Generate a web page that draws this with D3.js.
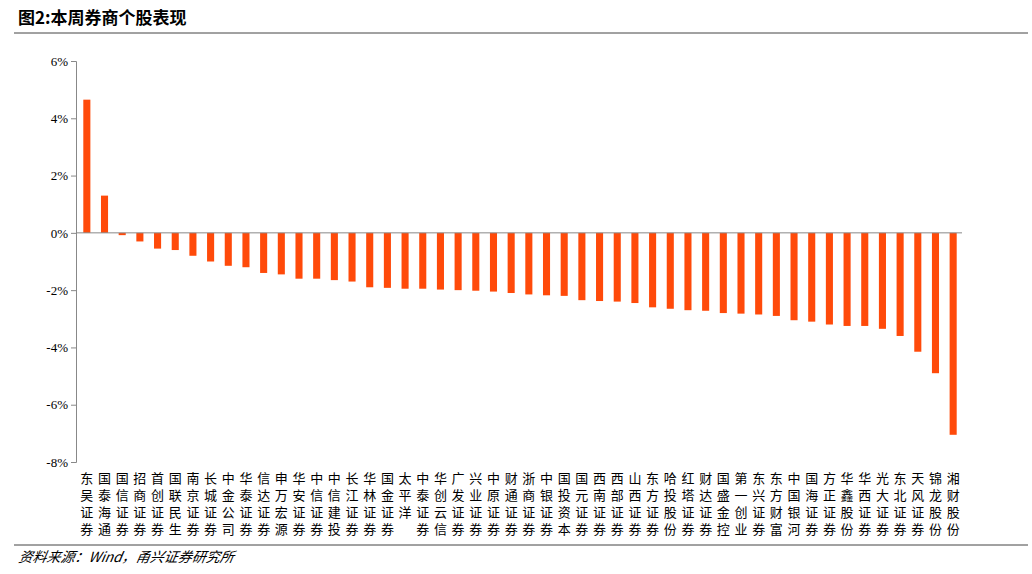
<!DOCTYPE html>
<html><head><meta charset="utf-8">
<script src="https://cdn.jsdelivr.net/npm/d3@7"></script>
<style>body{margin:0;background:#fff}text{font-family:"Times New Roman","Liberation Serif","Noto Sans CJK SC",serif}</style>
</head><body>
<script>
const categories = ['东吴证券','国泰海通','国信证券','招商证券','首创证券','国联民生','南京证券','长城证券','中金公司','华泰证券','信达证券','申万宏源','华安证券','中信证券','中信建投','长江证券','华林证券','国金证券','太平洋','中泰证券','华创云信','广发证券','兴业证券','中原证券','财通证券','浙商证券','中银证券','国投资本','国元证券','西南证券','西部证券','山西证券','东方证券','哈投股份','红塔证券','财达证券','国盛金控','第一创业','东兴证券','东方财富','中国银河','国海证券','方正证券','华鑫股份','华西证券','光大证券','东北证券','天风证券','锦龙股份','湘财股份']
const values = [4.65,1.3,-0.08,-0.3,-0.55,-0.6,-0.8,-1.0,-1.15,-1.2,-1.4,-1.45,-1.6,-1.6,-1.65,-1.7,-1.9,-1.92,-1.95,-1.95,-1.98,-2.0,-2.02,-2.05,-2.1,-2.15,-2.18,-2.2,-2.35,-2.38,-2.4,-2.45,-2.6,-2.65,-2.7,-2.72,-2.8,-2.82,-2.85,-2.9,-3.05,-3.1,-3.2,-3.25,-3.25,-3.35,-3.6,-4.15,-4.9,-7.05]
const yTicks = [6,4,2,0,-2,-4,-6,-8]

const svg = d3.select('body').append('svg').attr('width',1032).attr('height',574)

svg.append('text').attr('x',18).attr('y',24).style('font-size','17px').style('font-weight','bold')
	.style('font-family','"Noto Sans CJK SC",sans-serif').text('图2:本周券商个股表现')
svg.append('line').attr('x1',14).attr('x2',1028).attr('y1',33).attr('y2',33).attr('stroke','#444').attr('stroke-width',1)
svg.append('line').attr('x1',14).attr('x2',1028).attr('y1',545).attr('y2',545).attr('stroke','#444').attr('stroke-width',1)
svg.append('text').attr('x',18).attr('y',562).style('font-size','14px').style('font-style','italic')
	.style('font-family','"Noto Sans CJK SC",sans-serif').style('transform','skewX(-10deg)').style('transform-origin','18px 562px')
	.text('资料来源：Wind，甬兴证券研究所')

const x = d3.scaleBand().domain(categories).range([78,962]).paddingInner(0.6).paddingOuter(0.3)
const y = d3.scaleLinear().domain([-8,6]).range([462,61])

svg.append('g').attr('transform','translate(76,0)')
	.call(d3.axisLeft(y).tickValues(yTicks).tickFormat(d => d + '%').tickSize(5))
	.call(g => g.selectAll('text').style('font-size','13px').attr('fill','#000'))
	.call(g => g.selectAll('path,line').attr('stroke','#888'))

svg.selectAll('.bar').data(values).enter().append('rect')
	.attr('x',(d,i) => x(categories[i]))
	.attr('width',x.bandwidth())
	.attr('y',d => y(Math.max(0,d)))
	.attr('height',d => Math.abs(y(d)-y(0)))
	.attr('fill','#FF4A0A')

svg.append('line').attr('x1',76).attr('x2',962).attr('y1',y(0)).attr('y2',y(0)).attr('stroke','#888')

const lab = svg.selectAll('.lab').data(categories).enter().append('text')
	.attr('text-anchor','middle').style('font-size','13px').style('font-family','"Noto Sans CJK SC",sans-serif')
lab.selectAll('tspan').data(d => d.split('')).enter().append('tspan')
	.attr('x',function(){ const c = d3.select(this.parentNode).datum(); return x(c)+x.bandwidth()/2 })
	.attr('y',(d,i) => 483 + i*17).text(d => d)
</script>
</body></html>
